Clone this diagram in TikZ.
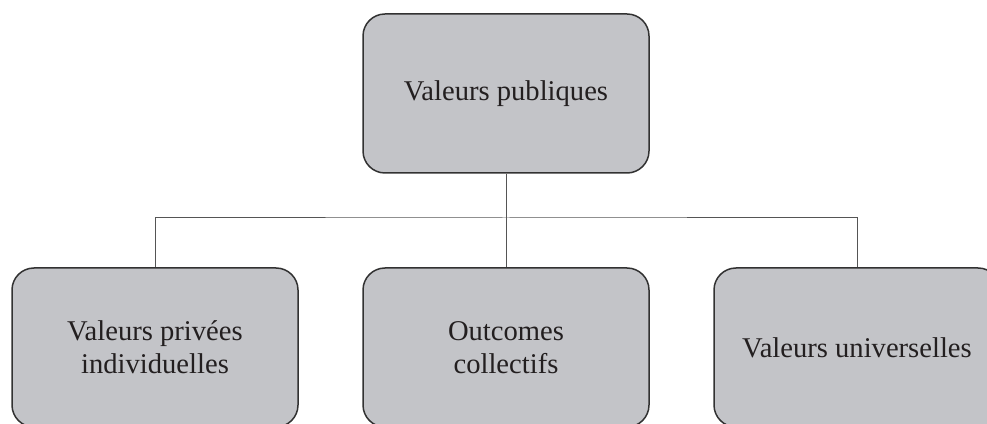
\documentclass[tikz,border=0pt]{standalone}
\usepackage{fontspec}
\setmainfont{Liberation Serif}
\definecolor{boxfill}{RGB}{195,196,200}
\definecolor{boxline}{RGB}{50,50,50}
\definecolor{textcol}{RGB}{35,31,32}
\definecolor{linkcol}{RGB}{85,85,85}
\begin{document}
\begin{tikzpicture}[x=1pt,y=1pt,
  box/.style={draw=boxline, line width=1.5pt, fill=boxfill, rounded corners=22pt,
    minimum width=286pt, minimum height=159pt, align=center, inner sep=0pt,
    font=\fontsize{28.6}{33}\selectfont, text=textcol},
  link/.style={draw=linkcol, line width=1pt}]
\useasboundingbox (0,0) rectangle (987,423);
\clip (0,0) rectangle (987,423);
\coordinate (bus) at (506,205);
\node[box] (top) at (506,329.5) {Valeurs publiques};
\node[box] (left) at (155,75.5) {Valeurs privées\\individuelles};
\node[box] (mid) at (506,75.5) {Outcomes\\collectifs};
\node[box] (right) at (857,75.5) {Valeurs universelles};
\draw[link] (top.south) -- (mid.north);
\draw[link] (left.north) |- (bus) -| (right.north);
\end{tikzpicture}
\end{document}
